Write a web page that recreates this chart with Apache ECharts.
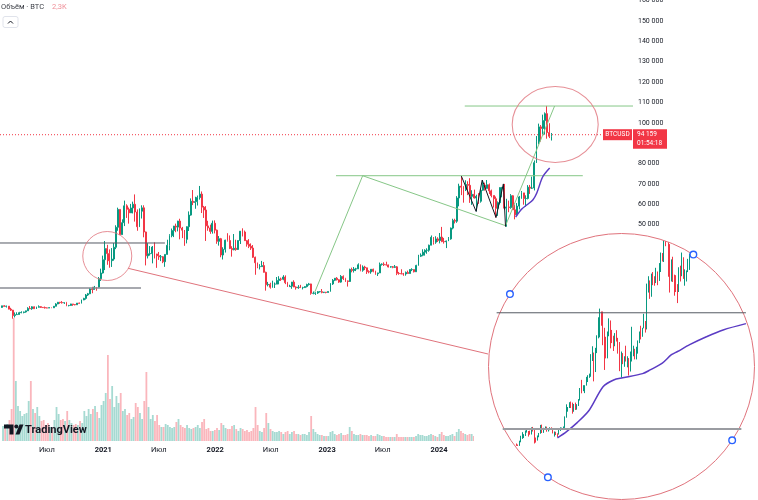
<!DOCTYPE html>
<html><head><meta charset="utf-8">
<script src="https://cdn.jsdelivr.net/npm/echarts@6/dist/echarts.min.js"></script>
<style>html,body{margin:0;padding:0;background:#fff}#c{width:758px;height:500px}</style>
</head><body><div id="c"></div>
<script>
// ---------- DATA (prices in thousands USD) ----------
const weekStart = '2020-02-03';
const firstOpen = 9.38;
const wkClose = [
10.15,9.90,9.98,8.53,8.03,5.36,5.83,5.88,6.78,6.90,7.13,7.70,8.89,8.72,9.67,8.72,9.45,9.75,9.38,9.29,9.12,9.07,9.23,9.17,9.95,11.05,11.90,11.77,11.65,11.70,10.28,10.33,11.08,10.78,10.67,11.50,11.37,13.03,13.80,15.48,16.07,18.42,18.18,19.36,19.27,23.48,26.27,32.78,
38.24,35.79,32.29,33.11,38.90,48.72,57.49,45.14,50.97,59.24,57.53,55.78,58.20,60.00,56.20,49.00,56.60,58.25,46.40,34.70,35.70,35.80,39.00,35.60,34.70,34.20,34.25,31.80,35.40,39.85,44.60,47.10,49.30,48.80,51.75,48.30,47.30,42.80,49.00,54.70,61.50,60.90,61.30,63.30,65.00,58.60,57.20,49.40,48.40,46.70,50.70,47.30,
41.80,43.10,35.10,37.90,42.40,42.20,38.30,37.70,38.40,37.80,42.20,46.80,46.40,42.15,40.40,39.40,38.50,34.00,31.30,29.40,29.40,29.90,26.60,20.50,20.70,19.30,20.80,20.80,22.60,23.30,23.20,24.30,21.50,19.55,19.80,21.80,19.40,19.00,19.30,19.10,19.10,19.60,20.60,20.90,16.30,16.30,16.45,17.10,17.10,16.75,16.85,16.70,
17.20,20.90,22.70,23.70,22.95,21.80,24.60,23.50,22.40,22.10,28.00,27.50,28.20,28.30,30.30,27.60,29.20,28.80,26.90,26.80,28.10,27.10,25.90,26.30,30.50,30.60,30.30,30.25,29.20,29.30,29.05,29.30,26.10,26.00,25.85,25.80,26.55,26.00,27.95,27.95,26.85,30.00,34.50,35.00,36.50,37.40,37.45,39.90,43.80,41.40,43.00,42.20,
43.90,41.70,41.60,42.00,43.00,48.30,52.10,51.70,63.10,68.90,68.40,67.20,69.70,69.30,63.90,64.90,63.10,63.90,61.50,66.90,69.40,67.80,69.60,66.60,64.30,62.70,58.00,60.80,68.20,68.30,58.10,58.70,58.40,64.20,57.30,54.80,59.10,63.60,65.60,62.80,62.90,68.40,67.90,68.00,80.40,90.60,98.00,97.20,101.10,104.50,95.20,93.40,94.159];
const wkHigh = [
10.18,10.50,10.25,9.99,9.19,8.15,6.90,6.98,7.20,7.46,7.30,7.75,9.46,10.07,9.95,9.84,9.75,10.38,9.99,9.58,9.80,9.35,9.46,9.35,10.00,11.45,12.05,12.08,12.47,11.80,12.09,10.60,11.17,10.98,10.95,11.50,11.72,13.20,14.09,15.97,16.48,18.95,19.48,19.92,19.41,24.30,28.40,34.80,
41.95,40.10,37.85,38.50,40.96,49.70,58.35,57.50,52.60,61.80,60.00,58.40,60.20,61.30,64.85,57.50,58.00,59.50,59.50,46.60,40.90,39.50,39.50,41.30,35.70,36.60,35.10,34.60,35.40,42.60,45.30,48.10,49.40,50.50,51.90,52.90,48.90,47.30,49.20,56.50,62.90,67.00,63.70,64.30,69.00,66.30,59.20,59.10,51.90,50.00,52.00,52.10,
47.60,44.40,43.50,38.90,42.60,45.80,44.70,39.40,45.40,42.60,42.30,46.90,48.20,47.10,42.40,42.90,40.80,40.00,34.30,31.30,30.60,32.20,31.70,26.90,21.90,21.50,22.50,21.60,24.30,24.70,24.00,25.20,25.10,21.90,20.50,21.90,22.70,19.70,20.30,20.45,19.50,19.70,21.00,21.40,21.00,17.20,16.80,17.40,17.40,18.40,16.95,16.95,
17.20,21.30,23.30,23.80,24.25,23.20,25.25,25.10,23.90,22.60,28.40,28.90,29.20,28.80,31.00,30.50,30.00,29.80,28.90,27.60,28.20,28.40,27.40,26.40,31.40,31.00,31.50,31.80,30.40,29.60,29.70,30.20,29.70,26.80,28.10,26.30,27.00,27.45,28.05,28.60,28.00,30.30,35.20,35.90,37.90,37.90,38.40,40.20,44.70,43.40,44.30,43.80,
45.90,48.90,43.50,42.20,43.90,48.60,52.90,52.90,64.00,70.10,73.80,68.90,71.80,71.30,72.80,66.90,67.20,64.70,65.50,67.70,71.90,70.60,71.90,70.20,67.20,63.40,63.80,61.40,68.30,68.50,70.00,62.70,61.80,65.00,64.50,59.80,60.60,64.10,66.50,65.60,64.40,69.40,69.50,73.60,81.50,93.50,99.60,98.90,104.00,105.10,108.30,99.80,95.00];
const wkLow = [
9.15,9.70,9.30,8.45,7.64,3.85,4.45,5.70,5.86,6.50,6.47,6.80,7.68,8.50,8.20,8.63,8.63,9.27,9.10,9.16,8.83,8.98,9.04,9.00,9.10,9.90,10.96,11.15,11.25,11.10,9.96,9.88,10.20,10.14,10.37,10.55,11.22,11.42,12.92,13.20,15.00,15.88,16.33,18.13,17.57,19.00,22.35,26.00,
27.70,30.30,28.85,29.24,32.30,37.99,47.00,44.95,45.00,49.30,53.30,50.50,55.90,55.50,51.50,47.00,48.80,53.00,43.80,30.00,33.40,34.80,31.00,33.40,28.80,32.70,32.10,31.10,29.30,35.30,37.40,43.80,43.90,46.30,46.70,42.80,43.40,39.60,40.80,46.90,54.40,59.60,57.80,59.40,62.30,55.70,53.30,42.00,47.00,45.50,45.60,45.70,
40.60,39.70,34.00,32.90,36.30,41.70,38.00,34.30,37.40,37.20,37.60,40.50,44.20,42.00,39.20,38.50,37.60,33.70,25.40,28.60,28.00,29.30,26.50,17.60,19.70,18.60,19.00,18.90,20.80,20.70,22.40,22.70,20.80,19.50,19.50,18.50,19.30,18.10,18.50,19.00,18.20,18.90,19.20,20.10,15.60,15.80,15.50,16.00,16.70,16.30,16.40,16.30,
16.60,17.20,20.40,22.30,22.60,21.40,21.50,22.80,21.90,19.60,21.90,26.60,26.50,27.20,28.20,27.10,26.90,27.70,25.80,26.10,25.90,26.60,25.40,24.80,26.30,29.90,29.70,29.95,29.00,28.90,28.60,28.70,25.20,25.40,25.60,24.90,24.95,26.00,25.99,27.20,26.55,26.90,29.90,34.10,34.50,34.80,35.70,36.70,39.90,40.20,40.60,41.50,
40.80,41.40,40.70,38.50,41.90,42.60,47.70,50.60,50.90,59.00,64.50,60.80,66.50,64.50,60.70,59.70,62.80,56.50,60.20,60.80,66.60,66.70,68.50,65.00,63.40,58.40,53.50,54.30,59.90,63.40,57.20,49.00,56.10,57.80,57.20,52.60,54.60,57.50,62.70,59.80,58.90,62.40,65.10,67.50,66.80,80.30,89.40,90.80,94.20,94.20,92.20,92.50,91.30];
const wkVolume = [
15,14,17,21,32,123,60,35,30,25,27,28,40,60,32,28,34,25,20,21,16,18,14,13,21,34,27,21,22,20,30,21,18,16,17,16,20,18,30,25,32,27,32,35,29,23,36,40,
48,86,42,55,34,45,38,48,30,32,26,28,22,24,38,34,28,22,40,69,34,22,26,20,26,16,14,14,17,16,14,13,14,19,22,16,14,13,16,13,12,13,14,16,13,19,22,12,13,10,10,11,
13,11,18,16,13,12,12,15,16,12,10,13,12,10,11,9,10,13,34,16,10,9,13,28,18,12,10,9,9,10,9,7,9,10,7,9,10,7,7,6,7,7,6,9,25,12,9,7,6,6,5,5,
5,9,10,7,6,7,8,6,6,7,14,10,7,6,6,7,6,6,6,5,6,5,5,7,6,5,5,4,4,4,4,4,7,4,4,4,4,4,4,4,4,5,7,6,6,5,5,6,7,6,5,4,
7,9,6,5,5,6,7,5,9,12,10,8,7,6,7,7,5,6,5,4,5,4,4,4,4,4,7,5,6,4,6,12,6,4,5,4,5,4,4,4,4,4,5,6,7,9,7,7,7,7,9,6,4];

// inset: daily candles
const insetStart = '2020-11-14';
const insetFirstOpen = 16.30;
const dayClose = [
16.07,15.96,16.72,17.65,17.80,17.82,18.68,18.70,18.42,18.37,19.16,18.72,17.15,17.14,17.72,18.18,19.70,
18.80,19.20,19.45,18.70,19.15,19.36,19.17,18.32,18.55,18.25,18.03,18.80,19.17,19.27,19.44,21.31,22.80,23.14,23.87,23.48,22.75,23.82,23.24,23.73,24.71,26.49,26.27,27.04,27.36,28.84,29.00,
29.37,32.13,32.78,31.97,33.99,36.82,39.37,40.79,40.25,38.24,35.54,34.00,37.39,39.14,36.83,36.18,35.79,36.63,35.89,35.47,30.83,33.00,32.10,32.29,32.25,32.51,30.43,33.47,34.32,34.32,33.11,
33.52,35.51,37.47,36.93,38.29,39.26,38.90,46.20,46.48,44.92,47.91,47.50,47.11,48.72,47.94,49.13,52.12,51.56,55.91,55.88,57.49,54.10,48.89,49.68,47.17,46.34,46.19,45.14,
49.63,48.38,50.54,48.37,48.76,48.88,50.97,52.39,54.90,55.89,57.33,57.80];
const dayHigh = [
16.33,16.14,16.86,17.80,18.48,18.10,18.80,18.95,18.70,18.77,19.40,19.48,18.90,17.46,17.85,18.33,19.86,
19.92,19.31,19.57,19.53,19.17,19.42,19.40,19.28,18.62,18.56,18.27,18.94,19.40,19.35,19.56,21.48,23.77,23.26,24.17,24.30,24.10,23.84,24.10,23.80,24.76,26.87,28.42,27.40,27.40,28.99,29.30,
29.60,33.30,34.80,33.60,34.50,36.88,40.30,41.95,41.40,41.40,38.30,36.60,37.60,40.10,39.70,37.90,36.80,37.30,37.85,36.40,35.60,33.80,33.50,32.90,34.90,32.90,32.55,33.80,38.50,34.90,34.30,
34.70,35.90,37.60,38.70,38.30,40.96,39.60,46.70,48.10,47.30,48.60,48.90,48.10,49.70,49.00,50.60,52.60,52.50,56.30,57.50,58.35,57.50,54.20,51.30,51.80,48.40,48.30,46.60,
49.80,50.10,52.60,51.70,49.40,49.20,51.40,52.40,54.90,57.20,58.00,58.10];
const dayLow = [
15.88,15.87,15.88,16.56,17.21,17.36,17.76,18.40,17.65,18.00,18.04,18.60,16.33,16.50,16.88,17.52,18.18,
18.32,18.35,18.93,18.57,18.60,18.86,18.93,18.24,17.65,17.93,17.57,18.02,18.72,19.00,19.05,19.29,21.23,22.37,23.07,23.06,22.00,22.36,22.70,22.75,23.46,24.50,25.86,26.28,25.90,27.32,28.00,
28.80,29.00,32.00,28.13,29.90,33.50,36.30,36.50,38.70,35.00,30.30,32.50,32.50,36.70,34.40,35.40,33.90,34.80,35.70,33.40,30.07,28.85,31.40,30.90,31.90,30.80,29.24,30.00,31.90,32.90,32.30,
32.30,33.40,35.40,36.10,36.60,38.20,37.40,38.00,45.00,43.80,44.20,46.40,46.30,46.80,46.40,47.20,48.90,50.90,50.80,53.80,55.50,48.00,45.00,47.10,47.00,44.40,45.10,43.00,
45.10,47.10,48.10,47.60,46.30,47.10,48.90,49.30,51.90,53.10,54.30,55.00];
const insetMA = [['2020-12-11',17.39],['2020-12-17',18.6],['2020-12-24',20.3],['2021-01-01',22.7],['2021-01-10',27.1],['2021-01-17',28.4],['2021-01-23',28.8],['2021-02-05',29.6],['2021-02-10',30.3],['2021-02-18',31.6],['2021-02-24',33.2],['2021-02-28',33.8],['2021-03-08',35.1],['2021-03-19',36.6],['2021-03-30',37.9],['2021-04-14',39.1]];
const mainMA = [['2024-09-07',53.75],['2024-09-27',57.68],['2024-10-13',59.64],['2024-11-02',62.10],['2024-11-15',65.54],['2024-12-04',73.39],['2024-12-27',77.81]];
const zigzag = [['2024-03-14',73.8],['2024-05-01',56.5],['2024-05-21',71.9],['2024-07-05',53.5],['2024-07-29',70.0],['2024-08-05',49.0]];
const xTicks = ['2020-07-01','2021-01-01','2021-07-01','2022-01-01','2022-07-01','2023-01-01','2023-07-01','2024-01-01','2024-07-01'];
const yTicks = [50000,60000,70000,80000,90000,100000,110000,120000,130000,140000,150000,160000];
const lastPrice = 94159;
const symbolName = 'BTCUSD';
const countdown = '01:54:18';
const volTitle = 'Объём · BTC';
const volValue = '2,3K';

// ---------- LAYOUT ----------
const DAY = 864e5;
const T = s => (typeof s === 'number') ? s : Date.parse(s + 'T00:00:00Z');
const X_MIN = Date.UTC(2020,0,30,2), X_MAX = Date.UTC(2025,8,24,19);
const Y_MIN = -56210, Y_MAX = 160290;
const IN_MIN = Date.UTC(2021,0,8) - (600-474)/1.52*DAY, IN_MAX = Date.UTC(2021,0,8) + (758-600)/1.52*DAY;
const FONT = 'Roboto, "Liberation Sans", sans-serif';
const UP = '#089981', DN = '#f23645';
const RED = '#e0737c', GREEN = '#86c787', PURPLE = '#5b3cc4';
const CX = 621.5, CY = 366.5, R = 133;

const candles = [], vols = [];
let prev = firstOpen;
wkClose.forEach((c, i) => {
  const t = T(weekStart) + (i*7 + 3)*DAY;
  const o = prev, h = Math.max(wkHigh[i], o, c), l = Math.min(wkLow[i], o, c);
  candles.push([t, o*1000, c*1000, l*1000, h*1000]);
  vols.push({value: [t, wkVolume[i]], itemStyle: {color: c >= o ? 'rgba(8,153,129,0.36)' : 'rgba(242,54,69,0.36)'}});
  prev = c;
});
const inCandles = [];
prev = insetFirstOpen;
dayClose.forEach((c, i) => {
  const t = T(insetStart) + i*DAY;
  const o = prev, h = Math.max(dayHigh[i], o, c), l = Math.min(dayLow[i], o, c);
  inCandles.push([t, o*1000, c*1000, l*1000, h*1000]);
  prev = c;
});

function seg(points, color, width, z, ax, type) {
  return {type: 'line', xAxisIndex: ax || 0, yAxisIndex: ax || 0, silent: true, symbol: 'none', z: z,
    data: points.map(p => [T(p[0]), p[1]]), lineStyle: {color: color, width: width, type: type || 'solid'}, animation: false};
}

const chart = echarts.init(document.getElementById('c'), null, {renderer: 'canvas'});
chart.setOption({
  animation: false, useUTC: true, backgroundColor: '#fff',
  grid: [
    {left: 0, top: 0, width: 633, height: 441, outerBoundsMode: 'none', containLabel: false},
    {left: 0, top: 300, width: 633, height: 141, outerBoundsMode: 'none', containLabel: false},
    {left: 474, top: 232, width: 284, height: 268, outerBoundsMode: 'none', containLabel: false}
  ],
  xAxis: [
    {gridIndex: 0, type: 'time', min: X_MIN, max: X_MAX, show: false},
    {gridIndex: 1, type: 'time', min: X_MIN, max: X_MAX, show: false},
    {gridIndex: 2, type: 'time', min: IN_MIN, max: IN_MAX, show: false},
    {gridIndex: 1, type: 'value', position: 'bottom', min: X_MIN, max: X_MAX, axisLine: {show: false}, axisTick: {show: false}, splitLine: {show: false},
      axisLabel: {customValues: xTicks.map(T), margin: 5, color: '#131722', fontSize: 7.5, fontFamily: FONT,
        formatter: v => { const d = new Date(v); return d.getUTCMonth() === 0 ? '{y|' + d.getUTCFullYear() + '}' : 'Июл'; },
        rich: {y: {fontWeight: 'bold', fontSize: 7.5, color: '#131722', fontFamily: FONT}}}}
  ],
  yAxis: [
    {gridIndex: 0, type: 'value', position: 'right', min: Y_MIN, max: Y_MAX, axisLine: {show: false}, axisTick: {show: false}, splitLine: {show: false},
      axisLabel: {customValues: yTicks, margin: 5, color: '#131722', fontSize: 7, fontFamily: FONT, align: 'left',
        formatter: v => (v/1000) + ' 000'}},
    {gridIndex: 1, type: 'value', min: 0, max: 141, show: false},
    {gridIndex: 2, type: 'value', min: 5600, max: 56500, show: false}
  ],
  series: [
    {type: 'bar', xAxisIndex: 1, yAxisIndex: 1, data: vols, barWidth: 1.8, z: 1, silent: true},
    {type: 'candlestick', xAxisIndex: 0, yAxisIndex: 0, data: candles, barWidth: 1.4, z: 2, silent: true,
      itemStyle: {color: UP, color0: DN, borderColor: UP, borderColor0: DN, borderWidth: 1}},
    seg([[X_MIN, lastPrice], [X_MAX, lastPrice]], DN, 1, 4, 0, [1, 2]),
    seg([[X_MIN, 41000], ['2021-07-21', 41000]], '#555a63', 1, 5),
    seg([[X_MIN, 18900], ['2021-05-04', 18900]], '#8a8d94', 1.5, 5),
    seg([['2023-01-30', 74030], ['2025-04-14', 74030]], GREEN, 1, 5),
    seg([['2024-03-25', 108240], [X_MAX, 108240]], GREEN, 1, 5),
    seg([['2022-11-22', 16940], ['2023-04-27', 74030], ['2024-08-05', 49500], ['2025-01-12', 108240]], GREEN, 1, 5),
    seg(zigzag.map(p => [p[0], p[1]*1000]), '#131722', 1, 6),
    Object.assign(seg(mainMA.map(p => [p[0], p[1]*1000]), PURPLE, 1.5, 6), {smooth: 0.3}),
    {type: 'scatter', xAxisIndex: 0, yAxisIndex: 0, silent: true, z: 7, symbol: 'circle', symbolSize: 49,
      data: [[T('2021-01-14'), 34610]], itemStyle: {color: 'rgba(0,0,0,0)', borderColor: RED, borderWidth: 1}},
    {type: 'scatter', xAxisIndex: 0, yAxisIndex: 0, silent: true, z: 7, symbol: 'circle', symbolSize: [86, 76],
      data: [[T('2025-01-14'), 99160]], itemStyle: {color: 'rgba(0,0,0,0)', borderColor: RED, borderWidth: 1}},
    {type: 'candlestick', xAxisIndex: 2, yAxisIndex: 2, data: inCandles, barWidth: 1.3, z: 20, silent: true,
      itemStyle: {color: UP, color0: DN, borderColor: UP, borderColor0: DN, borderWidth: 1}},
    Object.assign(seg(insetMA.map(p => [p[0], p[1]*1000]), PURPLE, 1.5, 21, 2), {smooth: 0.3}),
    seg([['2020-11-01', 41160], ['2021-04-14', 41160]], '#555a63', 1, 32, 2),
    seg([['2020-11-05', 19100], ['2021-04-11', 19100]], '#9a9ca1', 2, 32, 2),
    seg([['2021-03-23', 28570], ['2024-06-09', -13500]], RED, 1, 33)
  ]
});

const py = chart.convertToPixel({yAxisIndex: 0}, lastPrice);
const mask = [[474,232],[663.5,232],[663.5,205],[758,205],[758,500],[474,500],[474,CY],[CX-R,CY]];
for (let k = 1; k <= 160; k++) { const a = Math.PI - k*2*Math.PI/160; mask.push([CX + R*Math.cos(a), CY + R*Math.sin(a)]); }
mask.push([474, CY]);
const handles = [213, 123.6, 33.7, -57.3].map(d => {
  const a = d*Math.PI/180;
  return {type: 'circle', z: 34, shape: {cx: CX + R*Math.cos(a), cy: CY + R*Math.sin(a), r: 3.3}, style: {fill: '#fff', stroke: '#2962ff', lineWidth: 1.4}};
});
const g = [
  {type: 'rect', z: 10, shape: {x: 474, y: 232, width: 284, height: 268}, style: {fill: '#fff'}},
  {type: 'polygon', z: 30, shape: {points: mask}, style: {fill: '#fff'}},
  {type: 'circle', z: 31, shape: {cx: CX, cy: CY, r: R}, style: {fill: 'none', stroke: RED, lineWidth: 1}},
  ...handles,
  {type: 'rect', z: 40, shape: {x: 603, y: py - 5.5, width: 29, height: 11}, style: {fill: DN}},
  {type: 'text', z: 41, style: {x: 617.5, y: py, text: symbolName, fill: '#fff', font: '6.5px ' + FONT, align: 'center', verticalAlign: 'middle'}},
  {type: 'rect', z: 40, shape: {x: 633, y: py - 5.5, width: 34, height: 19.5}, style: {fill: DN}},
  {type: 'text', z: 41, style: {x: 637, y: py, text: String(lastPrice).replace(/(\d{2})(\d{3})$/, '$1 $2'), fill: '#fff', font: '6.5px ' + FONT, verticalAlign: 'middle'}},
  {type: 'text', z: 41, style: {x: 637, y: py + 8.5, text: countdown, fill: '#fff', font: '6.5px ' + FONT, verticalAlign: 'middle'}},
  {type: 'text', z: 40, style: {x: 1, y: 7, text: volTitle, fill: '#3c3f47', font: '7.5px ' + FONT, verticalAlign: 'middle'}},
  {type: 'text', z: 40, style: {x: 52, y: 7, text: volValue, fill: '#ef8f98', font: '7.5px ' + FONT, verticalAlign: 'middle'}},
  {type: 'rect', z: 40, shape: {x: 3, y: 16.5, width: 15, height: 11, r: 2}, style: {fill: '#fff', stroke: '#e0e3eb', lineWidth: 1}},
  {type: 'polyline', z: 41, shape: {points: [[8, 23.5], [10.5, 21], [13, 23.5]]}, style: {stroke: '#131722', lineWidth: 1, fill: null}},
  {type: 'polygon', z: 40, shape: {points: [[4,424.5],[13.5,424.5],[13.5,434.5],[9.5,434.5],[9.5,428.5],[4,428.5]]}, style: {fill: '#131722'}},
  {type: 'circle', z: 40, shape: {cx: 16.3, cy: 426.6, r: 2}, style: {fill: '#131722'}},
  {type: 'polygon', z: 40, shape: {points: [[19.5,424.5],[23.5,424.5],[19.5,434.5],[15.5,434.5]]}, style: {fill: '#131722'}},
  {type: 'text', z: 40, style: {x: 25, y: 430, text: 'TradingView', fill: '#131722', font: 'bold 11px ' + FONT, verticalAlign: 'middle'}}
];
const lens = [wkClose.length, wkHigh.length, wkLow.length, wkVolume.length, dayClose.length, dayHigh.length, dayLow.length];
if (new Set(lens.slice(0,4)).size > 1 || new Set(lens.slice(4)).size > 1) {
  g.push({type: 'text', z: 99, style: {x: 200, y: 20, text: 'LEN ' + lens.join(','), fill: '#f00', font: '14px sans-serif'}});
}
chart.setOption({graphic: g});
</script>
</body></html>
